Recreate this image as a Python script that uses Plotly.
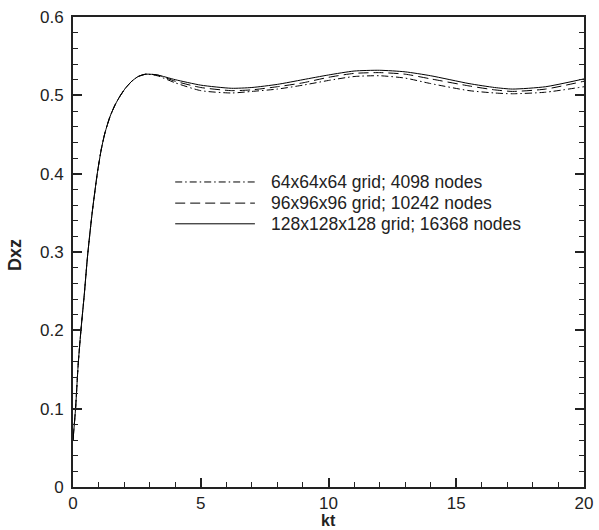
import plotly.graph_objects as go

# ---- data ----
rise_t = [0.0, 0.1, 0.2, 0.31, 0.44, 0.57, 0.75, 0.95, 1.1, 1.25, 1.45, 1.65, 1.84, 2.05, 2.3, 2.55, 2.85]
rise_v = [0.06, 0.10, 0.155, 0.20, 0.245, 0.295, 0.35, 0.40, 0.43, 0.452, 0.473, 0.488, 0.499, 0.509, 0.518, 0.524, 0.527]

t_tail = [3.3, 4.0, 5.0, 6.2, 7.0, 8.0, 9.0, 10.0, 11.0, 12.0, 13.0, 14.0, 15.5, 16.5, 17.2, 18.5, 20.0]
v64 = [0.525, 0.516, 0.506, 0.503, 0.505, 0.508, 0.513, 0.519, 0.524, 0.525, 0.522, 0.515, 0.506, 0.503, 0.502, 0.504, 0.511]
v96 = [0.526, 0.518, 0.510, 0.506, 0.507, 0.511, 0.516, 0.523, 0.528, 0.529, 0.527, 0.521, 0.512, 0.507, 0.505, 0.508, 0.518]
v128 = [0.526, 0.520, 0.513, 0.509, 0.510, 0.514, 0.520, 0.526, 0.531, 0.532, 0.530, 0.525, 0.515, 0.510, 0.508, 0.511, 0.521]

names = ["64x64x64 grid; 4098 nodes",
         "96x96x96 grid; 10242 nodes",
         "128x128x128 grid; 16368 nodes"]
dashes = ["7px,3px,1.5px,3px", "10px,5px", "solid"]

x_ticks = [0, 5, 10, 15, 20]
y_ticks = [0, 0.1, 0.2, 0.3, 0.4, 0.5, 0.6]
y_tick_text = ["0", "0.1", "0.2", "0.3", "0.4", "0.5", "0.6"]
x_title = "kt"
y_title = "Dxz"

FONT = "Liberation Sans"
INK = "#222"

fig = go.Figure()
for name, tail, dash in zip(names, [v64, v96, v128], dashes):
    fig.add_trace(go.Scatter(
        x=rise_t + t_tail, y=rise_v + tail, mode="lines", name=name,
        line=dict(color="black", width=1, dash=dash, shape="spline", smoothing=0.6),
        showlegend=False))

axis_common = dict(
    showline=True, linecolor=INK, linewidth=2, automargin=False,
    ticks="inside", tickcolor=INK, ticklen=9, tickwidth=1.5,
    showgrid=False, zeroline=False,
    tickfont=dict(family=FONT, size=17, color=INK),
    minor=dict(ticks="inside", ticklen=5, tickcolor=INK, tickwidth=1),
)

fig.update_xaxes(range=[0, 20], tickvals=x_ticks, minor_dtick=1, mirror=True,
                 ticklabelstandoff=0, **axis_common)
fig.update_yaxes(range=[0, 0.6], tickvals=y_ticks, ticktext=y_tick_text, minor_dtick=0.02,
                 mirror="allticks", ticklabelstandoff=4, **axis_common)

# axis titles
annotations = [
    dict(text="<b>%s</b>" % x_title, xref="paper", yref="paper", x=0.5, y=-0.072,
         xanchor="center", yanchor="middle", showarrow=False,
         font=dict(family=FONT, size=16, color=INK)),
    dict(text="<b>%s</b>" % y_title, xref="paper", yref="paper", x=-0.113, y=0.494,
         xanchor="center", yanchor="middle", showarrow=False, textangle=-90,
         font=dict(family=FONT, size=18, color=INK)),
]

# manual legend (no box) inside the plot
leg_y = [0.649, 0.604, 0.560]
shapes = []
for name, dash, ly in zip(names, dashes, leg_y):
    shapes.append(dict(type="line", xref="paper", yref="paper",
                       x0=0.2, x1=0.356, y0=ly, y1=ly,
                       line=dict(color="black", width=1, dash=dash)))
    annotations.append(dict(text=name, xref="paper", yref="paper", x=0.383, y=ly,
                            xanchor="left", yanchor="middle", showarrow=False,
                            font=dict(family=FONT, size=17.5, color=INK)))

fig.update_layout(
    width=599, height=530,
    margin=dict(l=73, r=15, t=17, b=43),
    paper_bgcolor="white", plot_bgcolor="white",
    shapes=shapes, annotations=annotations,
)

fig.write_html("out.html")
